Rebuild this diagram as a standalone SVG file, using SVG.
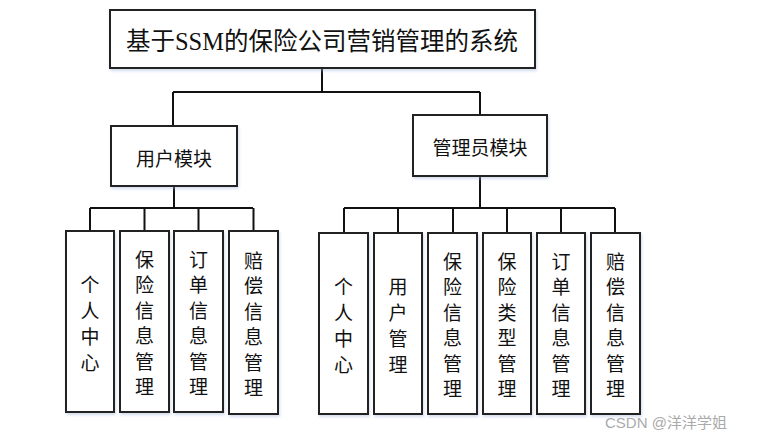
<svg xmlns="http://www.w3.org/2000/svg" width="758" height="440" viewBox="0 0 758 440">
<defs>
<filter id="sh" x="-20%" y="-20%" width="140%" height="140%">
<feDropShadow dx="1" dy="2" stdDeviation="1.5" flood-color="#9fb4d8" flood-opacity="0.45"/>
</filter>
</defs>
<style>
.box{fill:#fff;stroke:#222;stroke-width:2;filter:url(#sh)}
.ln{fill:none;stroke:#111;stroke-width:2}
.t{font-family:"Noto Sans CJK SC","Liberation Sans",sans-serif;font-size:19px;fill:#111;text-anchor:middle;dominant-baseline:central}
.v{font-family:"Noto Sans CJK SC","Liberation Sans",sans-serif;font-size:19px;fill:#111;text-anchor:middle;dominant-baseline:central}
.title{font-family:"Liberation Serif","Noto Sans CJK SC",serif;font-size:24.5px;fill:#111;text-anchor:middle;dominant-baseline:central}
.wm{font-family:"Liberation Sans","Noto Sans CJK SC",sans-serif;font-size:15px;fill:#aaa}
</style>
<rect width="758" height="440" fill="#fff"/>
<g id="connectors">
<path class="ln" d="M322 68V92M173 92H480M173 92V126M480 92V115"/>
<path class="ln" d="M174 186V208M90 208H253M90 208V231M144.5 208V231M198.5 208V231M253.5 208V231"/>
<path class="ln" d="M480 176V208M344 208H615M344 208V233M398 208V233M453 208V233M507 208V233M561 208V233M615 208V233"/>
</g>
<g id="root"><rect class="box" x="110" y="10" width="425" height="58"/><text class="title" x="322" y="41">基于SSM的保险公司营销管理的系统</text></g>
<g id="user"><rect class="box" x="111" y="126" width="126" height="60"/><text class="t" x="174" y="157">用户模块</text></g>
<g id="admin"><rect class="box" x="413" y="115" width="134" height="61"/><text class="t" x="480" y="146">管理员模块</text></g>
<g id="u1"><rect class="box" x="66" y="231" width="48" height="181"/><text class="v" x="90"><tspan x="90" y="282.5">个</tspan><tspan x="90" y="308.5">人</tspan><tspan x="90" y="334.5">中</tspan><tspan x="90" y="360.5">心</tspan></text></g>
<g id="u2"><rect class="box" x="120" y="231" width="49" height="181"/><text class="v"><tspan x="144.5" y="257.5">保</tspan><tspan x="144.5" y="283">险</tspan><tspan x="144.5" y="308.5">信</tspan><tspan x="144.5" y="334">息</tspan><tspan x="144.5" y="359.5">管</tspan><tspan x="144.5" y="385">理</tspan></text></g>
<g id="u3"><rect class="box" x="174" y="231" width="49" height="181"/><text class="v"><tspan x="198.5" y="257.5">订</tspan><tspan x="198.5" y="283">单</tspan><tspan x="198.5" y="308.5">信</tspan><tspan x="198.5" y="334">息</tspan><tspan x="198.5" y="359.5">管</tspan><tspan x="198.5" y="385">理</tspan></text></g>
<g id="u4"><rect class="box" x="229" y="231" width="49" height="183"/><text class="v"><tspan x="253.5" y="258.5">赔</tspan><tspan x="253.5" y="284">偿</tspan><tspan x="253.5" y="309.5">信</tspan><tspan x="253.5" y="335">息</tspan><tspan x="253.5" y="360.5">管</tspan><tspan x="253.5" y="386">理</tspan></text></g>
<g id="a1"><rect class="box" x="319" y="233" width="49" height="181"/><text class="v"><tspan x="343.5" y="284.5">个</tspan><tspan x="343.5" y="310.5">人</tspan><tspan x="343.5" y="336.5">中</tspan><tspan x="343.5" y="362.5">心</tspan></text></g>
<g id="a2"><rect class="box" x="374" y="233" width="48" height="181"/><text class="v"><tspan x="398" y="284.5">用</tspan><tspan x="398" y="310.5">户</tspan><tspan x="398" y="336.5">管</tspan><tspan x="398" y="362.5">理</tspan></text></g>
<g id="a3"><rect class="box" x="428" y="233" width="49" height="181"/><text class="v"><tspan x="452.5" y="259.5">保</tspan><tspan x="452.5" y="285">险</tspan><tspan x="452.5" y="310.5">信</tspan><tspan x="452.5" y="336">息</tspan><tspan x="452.5" y="361.5">管</tspan><tspan x="452.5" y="387">理</tspan></text></g>
<g id="a4"><rect class="box" x="483" y="233" width="48" height="181"/><text class="v"><tspan x="507" y="259.5">保</tspan><tspan x="507" y="285">险</tspan><tspan x="507" y="310.5">类</tspan><tspan x="507" y="336">型</tspan><tspan x="507" y="361.5">管</tspan><tspan x="507" y="387">理</tspan></text></g>
<g id="a5"><rect class="box" x="537" y="233" width="48" height="181"/><text class="v"><tspan x="561" y="259.5">订</tspan><tspan x="561" y="285">单</tspan><tspan x="561" y="310.5">信</tspan><tspan x="561" y="336">息</tspan><tspan x="561" y="361.5">管</tspan><tspan x="561" y="387">理</tspan></text></g>
<g id="a6"><rect class="box" x="591" y="233" width="49" height="181"/><text class="v"><tspan x="615.5" y="259.5">赔</tspan><tspan x="615.5" y="285">偿</tspan><tspan x="615.5" y="310.5">信</tspan><tspan x="615.5" y="336">息</tspan><tspan x="615.5" y="361.5">管</tspan><tspan x="615.5" y="387">理</tspan></text></g>
<text class="wm" x="605" y="428">CSDN @洋洋学姐</text>
</svg>
